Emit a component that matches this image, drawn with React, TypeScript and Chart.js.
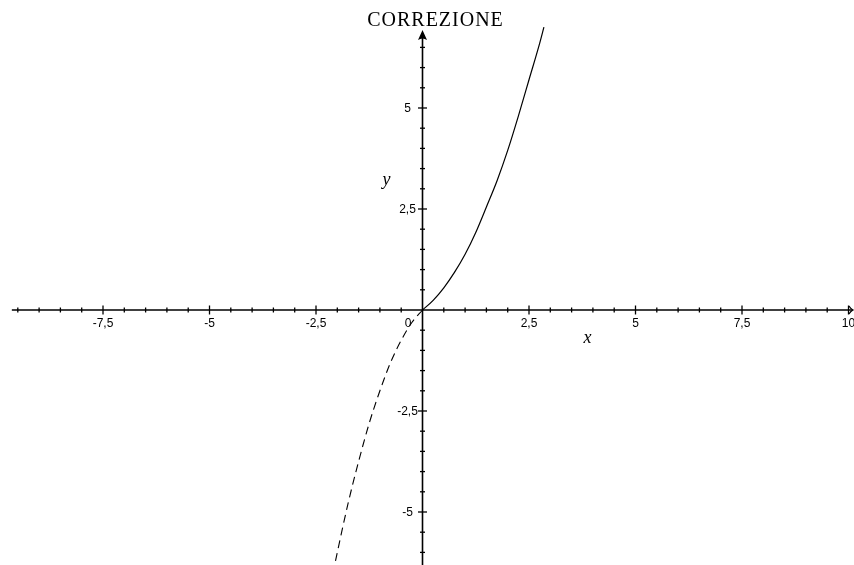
import React, { useEffect, useRef } from "react";
import { Chart, registerables } from "chart.js";

Chart.register(...registerables);

const title = "CORREZIONE";
const xAxisName = "x";
const yAxisName = "y";

// solid branch (x >= 0)
const solidX = [0, 0.25, 0.5, 0.75, 1.0, 1.25, 1.5, 1.75, 2.0, 2.25, 2.5, 2.75, 2.85];
const solidY = [0, 0.24, 0.55, 0.93, 1.38, 1.92, 2.55, 3.2, 3.95, 4.8, 5.7, 6.6, 7.0];

// dashed branch (x <= 0)
const dashX = [0, -0.25, -0.5, -0.75, -1.0, -1.25, -1.5, -1.75, -2.0, -2.1];
const dashY = [0, -0.31, -0.75, -1.3, -2.0, -2.8, -3.75, -4.8, -6.0, -6.5];

// labelled ticks
const xTickValues = [-7.5, -5, -2.5, 2.5, 5, 7.5, 10];
const xTickLabels = ["-7,5", "-5", "-2,5", "2,5", "5", "7,5", "10"];
const yTickValues = [-5, -2.5, 2.5, 5];
const yTickLabels = ["-5", "-2,5", "2,5", "5"];
const originLabel = "0";

const X_MIN = -9.918;
const X_MAX = 10.129;
const Y_MIN = -6.312;
const Y_MAX = 7.673;
const X_AXIS_START = -9.64;
const X_AXIS_END = 10.08;
const Y_AXIS_END = 6.93;
const MINOR_STEP = 0.5;

const axesPlugin = {
  id: "customAxes",
  beforeDatasetsDraw(chart: any) {
    const ctx = chart.ctx as CanvasRenderingContext2D;
    const xs = chart.scales.x;
    const ys = chart.scales.y;
    const ox = xs.getPixelForValue(0);
    const oy = ys.getPixelForValue(0);
    ctx.save();
    ctx.strokeStyle = "#000";
    ctx.fillStyle = "#000";
    ctx.lineWidth = 1.6;

    // x axis line
    const xl = xs.getPixelForValue(X_AXIS_START);
    const xr = xs.getPixelForValue(X_AXIS_END);
    ctx.beginPath();
    ctx.moveTo(xl, oy);
    ctx.lineTo(xr, oy);
    ctx.stroke();
    // y axis line
    const yb = chart.height;
    const yt = ys.getPixelForValue(Y_AXIS_END);
    ctx.beginPath();
    ctx.moveTo(ox, yb);
    ctx.lineTo(ox, yt + 4);
    ctx.stroke();

    // y arrow head
    ctx.beginPath();
    ctx.moveTo(ox, yt);
    ctx.lineTo(ox + 4.5, yt + 10);
    ctx.quadraticCurveTo(ox, yt + 7, ox - 4.5, yt + 10);
    ctx.closePath();
    ctx.fill();
    // x arrow head
    ctx.lineWidth = 1.3;
    ctx.beginPath();
    ctx.moveTo(xr - 3, oy - 4);
    ctx.quadraticCurveTo(xr - 1, oy - 1, xr + 1, oy);
    ctx.quadraticCurveTo(xr - 1, oy + 1, xr - 3, oy + 4);
    ctx.stroke();

    ctx.lineWidth = 1.3;
    // x ticks
    for (let v = Math.ceil(X_AXIS_START / MINOR_STEP) * MINOR_STEP; v <= 10.001; v += MINOR_STEP) {
      if (Math.abs(v) < 1e-6) continue;
      const major = Math.abs(v / 2.5 - Math.round(v / 2.5)) < 1e-6;
      const len = major ? 4.5 : 2.5;
      const px = xs.getPixelForValue(v);
      ctx.beginPath();
      ctx.moveTo(px, oy - len);
      ctx.lineTo(px, oy + len);
      ctx.stroke();
    }
    // y ticks
    for (let v = Math.ceil(Y_MIN / MINOR_STEP) * MINOR_STEP; v <= Y_AXIS_END - 0.3; v += MINOR_STEP) {
      if (Math.abs(v) < 1e-6) continue;
      const major = Math.abs(v / 2.5 - Math.round(v / 2.5)) < 1e-6;
      const len = major ? 4.5 : 2.5;
      const py = ys.getPixelForValue(v);
      ctx.beginPath();
      ctx.moveTo(ox - len, py);
      ctx.lineTo(ox + len, py);
      ctx.stroke();
    }

    // tick labels
    ctx.font = '12px "Liberation Sans", Arial, sans-serif';
    ctx.textAlign = "center";
    ctx.textBaseline = "middle";
    xTickValues.forEach((v, i) => {
      ctx.fillText(xTickLabels[i], xs.getPixelForValue(v), oy + 14);
    });
    yTickValues.forEach((v, i) => {
      ctx.fillText(yTickLabels[i], ox - 15, ys.getPixelForValue(v) + 1);
    });
    ctx.fillText(originLabel, ox - 14.5, oy + 14);

    // axis names
    ctx.font = 'italic 18px "Liberation Serif", "Times New Roman", serif';
    ctx.fillText(xAxisName, ox + 165, oy + 28);
    ctx.fillText(yAxisName, ox - 36, ys.getPixelForValue(3.2));

    // title
    ctx.font = '20px "Liberation Serif", "Times New Roman", serif';
    (ctx as any).letterSpacing = "1px";
    ctx.textBaseline = "alphabetic";
    ctx.fillText(title, ox + 13, 26);
    ctx.restore();
  },
};

export default function App() {
  const canvasRef = useRef<HTMLCanvasElement | null>(null);

  useEffect(() => {
    if (!canvasRef.current) return;
    const solid = solidX.map((x, i) => ({ x, y: solidY[i] }));
    const dashed = dashX.map((x, i) => ({ x, y: dashY[i] }));
    const chart = new Chart(canvasRef.current, {
      type: "scatter",
      data: {
        datasets: [
          {
            label: "solid",
            data: solid,
            showLine: true,
            borderColor: "#000",
            borderWidth: 1.2,
            pointRadius: 0,
            cubicInterpolationMode: "monotone",
          },
          {
            label: "dashed",
            data: dashed,
            showLine: true,
            borderColor: "#000",
            borderWidth: 1.1,
            borderDash: [8, 5],
            pointRadius: 0,
            cubicInterpolationMode: "monotone",
          },
        ],
      },
      options: {
        animation: false,
        responsive: true,
        maintainAspectRatio: false,
        layout: { padding: 0 },
        plugins: {
          legend: { display: false },
          tooltip: { enabled: false },
          title: { display: false },
        },
        scales: {
          x: { type: "linear", min: X_MIN, max: X_MAX, display: false },
          y: { type: "linear", min: Y_MIN, max: Y_MAX, display: false },
        },
      },
      plugins: [axesPlugin],
    });
    return () => chart.destroy();
  }, []);

  return (
    <div
      style={{
        position: "absolute",
        left: 0,
        top: 0,
        width: 854,
        height: 565,
        background: "#fff",
      }}
    >
      <canvas ref={canvasRef} />
    </div>
  );
}
